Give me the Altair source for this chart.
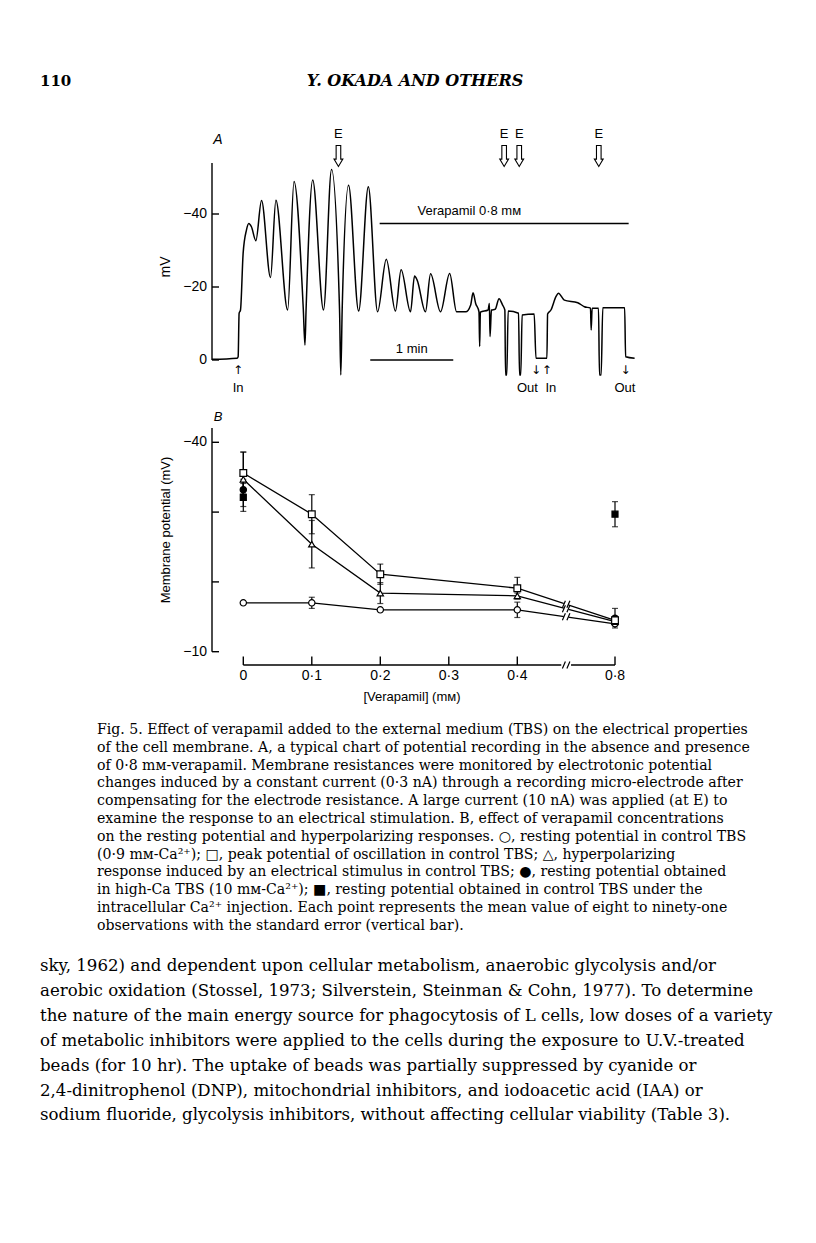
import altair as alt
import pandas as pd

M = 8  # page margin of the html body

# ---------------- Panel A : potential recording ----------------
TRACE_T = [0.0, 18.1, 18.9, 19.6, 20.6, 22.5, 24.9, 26.6, 28.5, 31.7, 35.8, 42.3, 46.2, 54.7,
           59.3, 66.0, 67.2, 68.0, 72.8, 80.6, 86.4, 92.2, 93.1, 94.1, 98.7, 106.0, 113.0,
           119.7, 126.0, 132.6, 136.7, 143.5, 146.4, 148.3, 154.3, 158.0, 165.2, 171.8, 176.8,
           183.4, 187.0, 188.7, 190.6, 193.0, 193.5, 194.0, 199.6, 200.5, 201.0, 202.0, 204.7,
           207.5, 210.0, 211.7, 212.2, 213.1, 214.1, 221.6, 222.3, 223.2, 224.2, 232.9, 234.2,
           242.1, 242.6, 245.0, 248.7, 250.4, 254.7, 264.4, 269.2, 273.6, 274.1, 274.8, 279.4,
           280.1, 281.3, 282.5, 298.3, 299.0, 305.5]
TRACE_MV = [-0.2, -0.5, -0.9, -12.8, -13.7, -29.2, -35.6, -37.4, -36.5, -32.7, -43.7, -22.6,
            -43.8, -13.7, -48.9, -13.9, -4.1, -13.7, -49.3, -13.7, -52.2, -13.7, 4.1, -13.7,
            -47.9, -13.4, -47.5, -13.2, -27.6, -13.4, -24.7, -13.2, -23.0, -21.9, -13.2, -23.6,
            -13.2, -23.7, -13.2, -13.2, -15.1, -18.4, -15.5, -13.2, -3.7, -13.1, -13.7, -15.5,
            -6.4, -13.7, -13.9, -16.8, -15.1, -13.7, 4.1, 4.1, -13.4, -12.8, 4.1, 4.1, -12.3,
            -12.6, -0.5, -0.5, -12.6, -13.7, -17.4, -18.3, -16.4, -15.7, -14.6, -14.2, -8.2,
            -14.2, -14.2, 4.1, 4.1, -14.3, -14.3, -0.9, -0.5]

A_TICKS = [-40, -20, 0]
A_TICK_LABELS = ["\u221240", "\u221220", "0"]
E_TIMES = [91.4, 211.2, 222.1, 279.6]
INOUT_ARROW_T = [18.9, 234.2, 242.1, 298.9]
INOUT_ARROWS = ["\u2191", "\u2193", "\u2191", "\u2193"]
INOUT_LABEL_T = [18.9, 228.0, 245.0, 298.5]
INOUT_LABELS = ["In", "Out", "In", "Out"]
MIN_BAR = [114.4, 174.4]
VERA_BAR = [121.2, 301.2]
VERA_MV = -37.4

# ---------------- Panel B : verapamil concentrations ----------------
CONC = [0, 0.1, 0.2, 0.4, 0.8]
SQ_MEAN = [-35.6, -29.7, -21.1, -19.1, -14.5]
SQ_ERR = [3.0, 2.8, 1.45, 1.55, 0.0]
TRI_MEAN = [-34.7, -25.4, -18.4, -18.0, -14.3]
TRI_ERR = [3.9, 3.4, 1.5, 0.4, 0.0]
CIR_MEAN = [-17.0, -17.0, -16.0, -16.0, -14.0]
CIR_ERR = [0.0, 0.8, 0.0, 1.1, 0.0]
HICA_CONC = [0, 0.8]
HICA_MEAN = [-33.2, -14.8]
HICA_ERR = [1.5, 1.4]
INJ_CONC = [0, 0.8]
INJ_MEAN = [-32.1, -29.7]
INJ_ERR = [2.0, 1.8]
B_XTICKS = [0, 0.1, 0.2, 0.3, 0.4, 0.8]
B_XLABELS = ["0", "0\u00b71", "0\u00b72", "0\u00b73", "0\u00b74", "0\u00b78"]
B_YTICKS = [-40, -30, -20, -10]
B_YLABELS = ["\u221240", "", "", "\u221210"]
BREAK_AT = 0.6

HEADER_NUM = "110"
HEADER_TITLE = "Y. OKADA  AND  OTHERS"
CAPTION = [
    "Fig. 5. Effect of verapamil added to the external medium (TBS) on the electrical properties",
    "of the cell membrane. A, a typical chart of potential recording in the absence and presence",
    "of 0\u00b78 m\u1d0d-verapamil.  Membrane  resistances  were  monitored  by  electrotonic  potential",
    "changes induced by a constant current (0\u00b73 nA) through a recording micro-electrode after",
    "compensating for the electrode resistance. A large current (10 nA) was applied (at E) to",
    "examine the response to an electrical stimulation. B, effect of verapamil concentrations",
    "on the resting potential and hyperpolarizing responses. \u25cb, resting potential in control TBS",
    "(0\u00b79 m\u1d0d-Ca\u00b2\u207a);  \u25a1,  peak  potential  of  oscillation  in  control  TBS;  \u25b3,  hyperpolarizing",
    "response induced by an electrical stimulus in control TBS; \u25cf, resting potential obtained",
    "in high-Ca TBS (10 m\u1d0d-Ca\u00b2\u207a);  \u25a0, resting potential obtained in control TBS under the",
    "intracellular Ca\u00b2\u207a injection. Each point represents the mean value of eight to ninety-one",
    "observations with the standard error (vertical bar).",
]
BODY = [
    "sky, 1962) and dependent upon cellular metabolism, anaerobic glycolysis and/or",
    "aerobic oxidation (Stossel, 1973; Silverstein, Steinman & Cohn, 1977). To determine",
    "the nature of the main energy source for phagocytosis of L cells, low doses of a variety",
    "of metabolic inhibitors were applied to the cells during the exposure to U.V.-treated",
    "beads (for 10 hr).  The uptake of beads was partially suppressed by cyanide or",
    "2,4-dinitrophenol (DNP), mitochondrial inhibitors, and iodoacetic acid (IAA) or",
    "sodium fluoride, glycolysis inhibitors, without affecting cellular viability (Table 3).",
]

SANS = "Liberation Sans"
SERIF = "DejaVu Serif"
ONE = pd.DataFrame({"k": [0]})

# hollow down arrow and axis-break symbols (unit-square paths)
ARROW_PATH = "M-0.22,-1 L0.22,-1 L0.22,0.3 L0.42,0.3 L0,1 L-0.42,0.3 L-0.22,0.3 Z"
BREAK_PATH = "M-0.75,0.7 L-0.15,-0.7 M0.15,0.7 L0.75,-0.7"

# ----- scales (pixel ranges inside the 800 x 1227 page canvas) -----
xA = alt.Scale(domain=[0, 60], range=[212 - M, 295 - M], nice=False, zero=False)
yA = alt.Scale(domain=[0, -40], range=[360 - M, 214 - M], nice=False, zero=False)
xB = alt.Scale(domain=[0, 0.4, 0.8], range=[243.3 - M, 517.3 - M, 615 - M], nice=False, zero=False)
yB = alt.Scale(domain=[-40, -10], range=[442.3 - M, 651.7 - M], nice=False, zero=False)

def XA(f, **k):
    return alt.X(f, type="quantitative", scale=xA, axis=None, **k)
def YA(f, **k):
    return alt.Y(f, type="quantitative", scale=yA, axis=None, **k)
def XB(f, **k):
    return alt.X(f, type="quantitative", scale=xB, axis=None, **k)
def YB(f, **k):
    return alt.Y(f, type="quantitative", scale=yB, axis=None, **k)

# ================= Panel A =================
trace = pd.DataFrame({"t": TRACE_T, "mv": TRACE_MV, "i": range(len(TRACE_T))})
a_trace = alt.Chart(trace).mark_line(color="black", strokeWidth=1.5, interpolate="monotone").encode(
    x=XA("t"), y=YA("mv"), order=alt.Order("i:Q"))

a_axis = alt.Chart(pd.DataFrame({"y0": [-54.0], "y1": [0.0]})).mark_rule(color="black", strokeWidth=1.4).encode(
    x=alt.value(212 - M), y=YA("y0"), y2="y1")
a_ticks_df = pd.DataFrame({"v": A_TICKS, "lab": A_TICK_LABELS})
a_ticks = alt.Chart(a_ticks_df).mark_rule(color="black", strokeWidth=1.4).encode(
    x=alt.value(212 - M), x2=alt.value(219 - M), y=YA("v"))
a_tlabels = alt.Chart(a_ticks_df).mark_text(align="right", baseline="middle", font=SANS, fontSize=14).encode(
    x=alt.value(207 - M), y=YA("v"), text="lab:N")
a_mv = alt.Chart(ONE).mark_text(angle=270, font=SANS, fontSize=14, baseline="middle").encode(
    x=alt.value(166 - M), y=alt.value(267 - M), text=alt.value("mV"))
a_letter = alt.Chart(ONE).mark_text(font=SANS, fontSize=14, fontStyle="italic", baseline="middle").encode(
    x=alt.value(218 - M), y=alt.value(140 - M), text=alt.value("A"))

e_df = pd.DataFrame({"t": E_TIMES})
a_e = alt.Chart(e_df).mark_text(font=SANS, fontSize=13, baseline="middle").encode(
    x=XA("t"), y=alt.value(134 - M), text=alt.value("E"))
a_earrow = alt.Chart(e_df).mark_point(shape=ARROW_PATH, size=440, filled=False, stroke="black",
                                      strokeWidth=1.1, opacity=1).encode(
    x=XA("t"), y=alt.value(156 - M))

io_arrow = alt.Chart(pd.DataFrame({"t": INOUT_ARROW_T, "s": INOUT_ARROWS})).mark_text(
    font="DejaVu Sans", fontSize=12, baseline="middle").encode(
    x=XA("t"), y=alt.value(370 - M), text="s:N")
io_label = alt.Chart(pd.DataFrame({"t": INOUT_LABEL_T, "s": INOUT_LABELS})).mark_text(
    font=SANS, fontSize=13, baseline="middle").encode(
    x=XA("t"), y=alt.value(388 - M), text="s:N")

min_bar = alt.Chart(pd.DataFrame({"t0": [MIN_BAR[0]], "t1": [MIN_BAR[1]], "v": [0.0]})).mark_rule(
    color="black", strokeWidth=1.3).encode(x=XA("t0"), x2="t1", y=YA("v"))
min_txt = alt.Chart(pd.DataFrame({"t": [(MIN_BAR[0] + MIN_BAR[1]) / 2]})).mark_text(
    font=SANS, fontSize=13, baseline="middle").encode(
    x=XA("t"), y=alt.value(349 - M), text=alt.value("1 min"))
vera_bar = alt.Chart(pd.DataFrame({"t0": [VERA_BAR[0]], "t1": [VERA_BAR[1]], "v": [VERA_MV]})).mark_rule(
    color="black", strokeWidth=1.3).encode(x=XA("t0"), x2="t1", y=YA("v"))
vera_txt = alt.Chart(pd.DataFrame({"t": [186.0]})).mark_text(
    font=SANS, fontSize=13, baseline="middle").encode(
    x=XA("t"), y=alt.value(211 - M), text=alt.value("Verapamil 0\u00b78 m\u1d0d"))

panelA = alt.layer(a_trace, a_axis, a_ticks, a_tlabels, a_mv, a_letter, a_e, a_earrow,
                   io_arrow, io_label, min_bar, min_txt, vera_bar, vera_txt)

# ================= Panel B =================
rows = []
for name, means, errs in [("sq", SQ_MEAN, SQ_ERR), ("tri", TRI_MEAN, TRI_ERR), ("cir", CIR_MEAN, CIR_ERR)]:
    for c, m, e in zip(CONC, means, errs):
        rows.append({"s": name, "c": c, "m": m, "lo": m - e, "hi": m + e, "e": e})
for name, cs, means, errs in [("hica", HICA_CONC, HICA_MEAN, HICA_ERR), ("inj", INJ_CONC, INJ_MEAN, INJ_ERR)]:
    for c, m, e in zip(cs, means, errs):
        rows.append({"s": name, "c": c, "m": m, "lo": m - e, "hi": m + e, "e": e})
bdf = pd.DataFrame(rows)
lines_df = bdf[bdf.s.isin(["sq", "tri", "cir"])]
err_df = bdf[bdf.e > 0]

b_lines = alt.Chart(lines_df).mark_line(color="black", strokeWidth=1.3).encode(
    x=XB("c"), y=YB("m"), detail="s:N")
b_err = alt.Chart(err_df).mark_rule(color="black", strokeWidth=1.2).encode(
    x=XB("c"), y=YB("lo"), y2="hi")
b_cap_lo = alt.Chart(err_df).mark_tick(orient="horizontal", size=6, thickness=1.2, color="black").encode(
    x=XB("c"), y=YB("lo"))
b_cap_hi = alt.Chart(err_df).mark_tick(orient="horizontal", size=6, thickness=1.2, color="black").encode(
    x=XB("c"), y=YB("hi"))

def pts(name, shape, filled, size):
    return alt.Chart(bdf[bdf.s == name]).mark_point(
        shape=shape, size=size, filled=True,
        fill="black" if filled else "white", stroke="black", strokeWidth=1.2, opacity=1).encode(
        x=XB("c"), y=YB("m"))

b_pts = [pts("hica", "circle", True, 40), pts("inj", "square", True, 36), pts("cir", "circle", False, 40),
         pts("tri", "triangle-up", False, 40), pts("sq", "square", False, 45)]

# break marks on the three curves and on the x axis
brk_rows = []
for name, means in [("sq", SQ_MEAN), ("tri", TRI_MEAN), ("cir", CIR_MEAN)]:
    brk_rows.append({"c": BREAK_AT, "m": (means[3] + means[4]) / 2})
brk_rows.append({"c": BREAK_AT, "m": -8.09})
brk_df = pd.DataFrame(brk_rows)
b_break_bg = alt.Chart(brk_df).mark_point(
    shape="square", size=22, filled=True, color="white", opacity=1).encode(x=XB("c"), y=YB("m"))
b_break = alt.Chart(brk_df).mark_point(
    shape=BREAK_PATH, size=100, filled=False, stroke="black", strokeWidth=1.2, opacity=1).encode(
    x=XB("c"), y=YB("m"))

# axes of B (drawn by hand: broken axis)
b_yaxis = alt.Chart(pd.DataFrame({"y0": [-42.05], "y1": [-10.0]})).mark_rule(color="black", strokeWidth=1.4).encode(
    x=alt.value(212 - M), y=YB("y0"), y2="y1")
b_ytick_df = pd.DataFrame({"v": B_YTICKS, "lab": B_YLABELS})
b_yticks = alt.Chart(b_ytick_df).mark_rule(color="black", strokeWidth=1.4).encode(
    x=alt.value(212 - M), x2=alt.value(219 - M), y=YB("v"))
b_ylabels = alt.Chart(b_ytick_df).mark_text(align="right", baseline="middle", font=SANS, fontSize=14).encode(
    x=alt.value(207 - M), y=YB("v"), text="lab:N")
b_xaxis = alt.Chart(pd.DataFrame({"c0": [0, 0.62], "c1": [0.58, 0.8], "v": [-8.09, -8.09]})).mark_rule(
    color="black", strokeWidth=1.4).encode(x=XB("c0"), x2="c1", y=YB("v"))
b_xtick_df = pd.DataFrame({"c": B_XTICKS, "lab": B_XLABELS, "v0": -9.3, "v1": -8.09})
b_xticks = alt.Chart(b_xtick_df).mark_rule(color="black", strokeWidth=1.4).encode(
    x=XB("c"), y=YB("v0"), y2="v1")
b_xlabels = alt.Chart(b_xtick_df).mark_text(baseline="middle", font=SANS, fontSize=14).encode(
    x=XB("c"), y=alt.value(676 - M), text="lab:N")
b_xtitle = alt.Chart(ONE).mark_text(baseline="middle", font=SANS, fontSize=13).encode(
    x=alt.value(412 - M), y=alt.value(697 - M), text=alt.value("[Verapamil]  (m\u1d0d)"))
b_ytitle = alt.Chart(ONE).mark_text(angle=270, baseline="middle", font=SANS, fontSize=13).encode(
    x=alt.value(166 - M), y=alt.value(530 - M), text=alt.value("Membrane potential (mV)"))
b_letter = alt.Chart(ONE).mark_text(font=SANS, fontSize=13, fontStyle="italic", baseline="middle").encode(
    x=alt.value(218 - M), y=alt.value(417 - M), text=alt.value("B"))

panelB = alt.layer(b_lines, b_err, b_cap_lo, b_cap_hi, *b_pts, b_break_bg, b_break,
                   b_yaxis, b_yticks, b_ylabels, b_xaxis, b_xticks, b_xlabels, b_xtitle, b_ytitle, b_letter)

# ================= Page text =================
hdr_num = alt.Chart(ONE).mark_text(font=SERIF, fontSize=15, fontWeight="bold", align="left", baseline="middle").encode(
    x=alt.value(40 - M), y=alt.value(81 - M), text=alt.value(HEADER_NUM))
hdr_title = alt.Chart(ONE).mark_text(font=SERIF, fontSize=16, fontWeight="bold", fontStyle="italic",
                                     align="center", baseline="middle").encode(
    x=alt.value(415 - M), y=alt.value(81 - M), text=alt.value(HEADER_TITLE))
caption = alt.Chart(ONE).mark_text(font=SERIF, fontSize=14.1, align="left", baseline="top", lineHeight=17.8).encode(
    x=alt.value(97 - M), y=alt.value(723 - M), text=alt.value(CAPTION))
body = alt.Chart(ONE).mark_text(font=SERIF, fontSize=16.6, align="left", baseline="top", lineHeight=24.9).encode(
    x=alt.value(40 - M), y=alt.value(958 - M), text=alt.value(BODY))

chart = alt.layer(panelA, panelB, hdr_num, hdr_title, caption, body).resolve_scale(
    x="independent", y="independent"
).properties(width=800, height=1227, padding=0, autosize="none").configure_view(stroke=None)

chart.save("out.html", embed_options={"renderer": "svg", "actions": False})
